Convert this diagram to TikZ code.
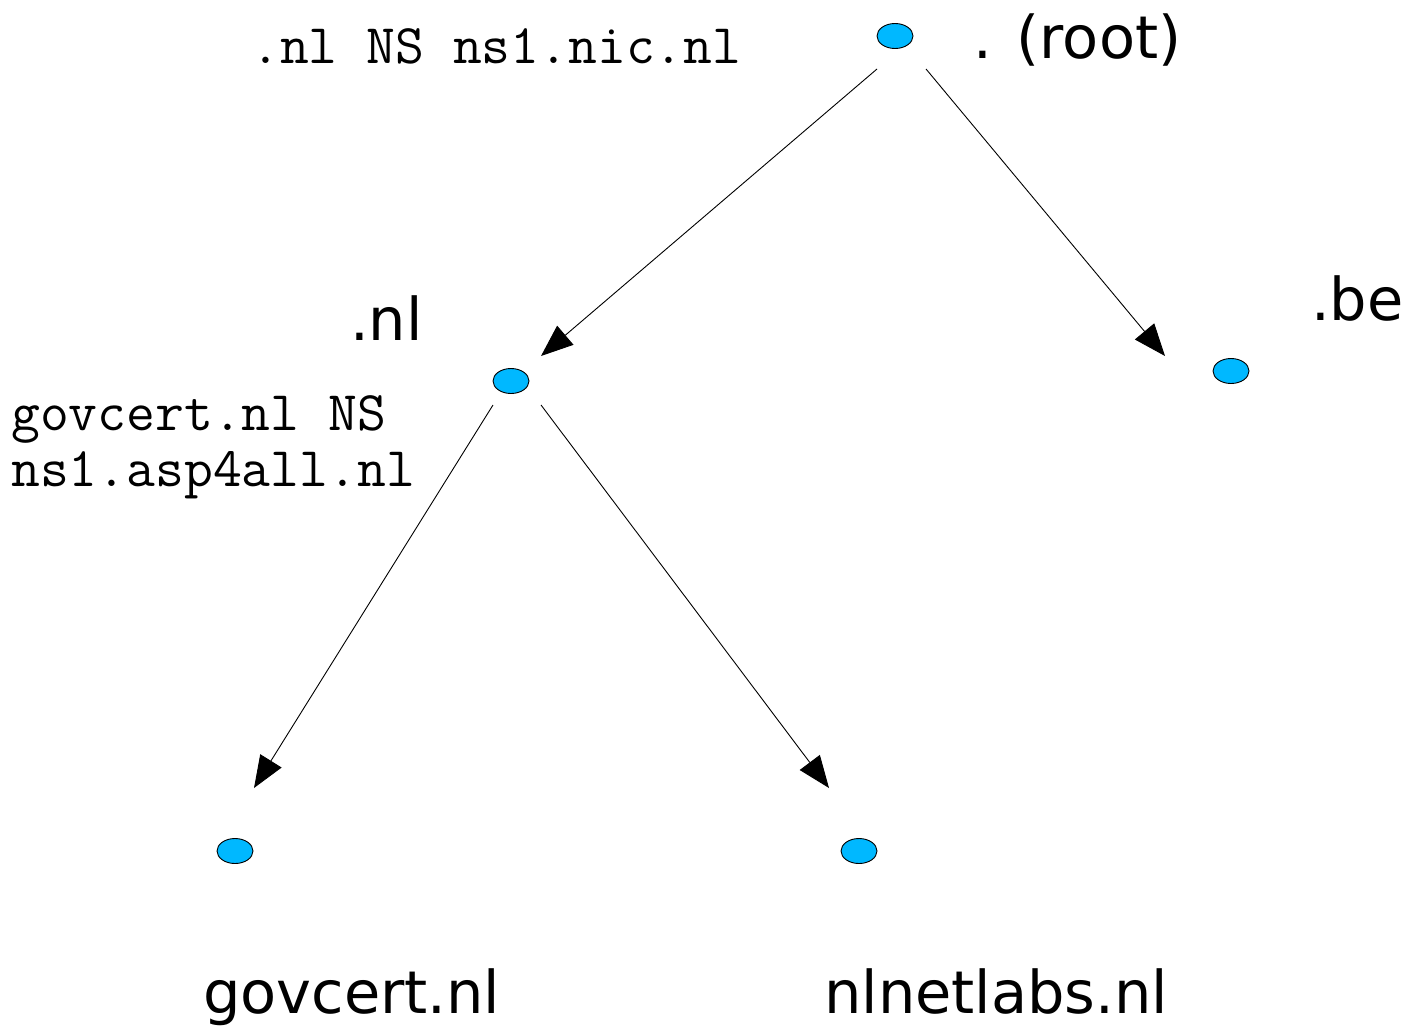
\documentclass[tikz,border=0pt]{standalone}
\usepackage{fontspec}
\setmainfont{DejaVu Sans}
\usetikzlibrary{arrows.meta,shapes.geometric}
\definecolor{dotblue}{RGB}{0,184,255}
\tikzset{
  dnsdot/.style={ellipse, draw=black, line width=0.9pt, fill=dotblue, minimum width=36pt, minimum height=25pt, inner sep=0pt},
  biglabel/.style={inner sep=0pt, anchor=base west, font=\fontsize{59}{70}\selectfont},
  monolabel/.style={inner sep=0pt, anchor=base west, align=left, font=\ttfamily\fontsize{56}{56}\selectfont},
  edge/.style={line width=0.9pt, -{Triangle[length=32pt,width=25pt]}}
}
\begin{document}
\begin{tikzpicture}[x=1pt,y=-1pt]
\useasboundingbox (0,0) rectangle (1410,1028);
\node[dnsdot] (root) at (895,36) {};
\node[dnsdot] (nl) at (511,381) {};
\node[dnsdot] (be) at (1231,371) {};
\node[dnsdot] (gov) at (235,851) {};
\node[dnsdot] (nln) at (859,851) {};

\node[biglabel] (rootlbl) at (973,58) {. (root)};
\node[biglabel] (nllbl) at (350,340) {.nl};
\node[biglabel] (belbl) at (1311,320) {.be};
\node[biglabel] (govlbl) at (203,1013) {govcert.nl};
\node[biglabel] (nlnlbl) at (824,1013) {nlnetlabs.nl};

\node[monolabel] (nsroot) at (251,63) {.nl NS ns1.nic.nl};
\node[monolabel] (nsnl1) at (11,430) {govcert.nl NS};
\node[monolabel] (nsnl2) at (11,486) {ns1.asp4all.nl};

\coordinate (s1) at (877,69);
\coordinate (e1) at (541,356);
\coordinate (s2) at (926,69);
\coordinate (e2) at (1165,356);
\coordinate (s3) at (493,405);
\coordinate (e3) at (254,788);
\coordinate (s4) at (541,405);
\coordinate (e4) at (829,788);

\draw[edge] (s1) -- (e1);
\draw[edge] (s2) -- (e2);
\draw[edge] (s3) -- (e3);
\draw[edge] (s4) -- (e4);
\end{tikzpicture}
\end{document}
